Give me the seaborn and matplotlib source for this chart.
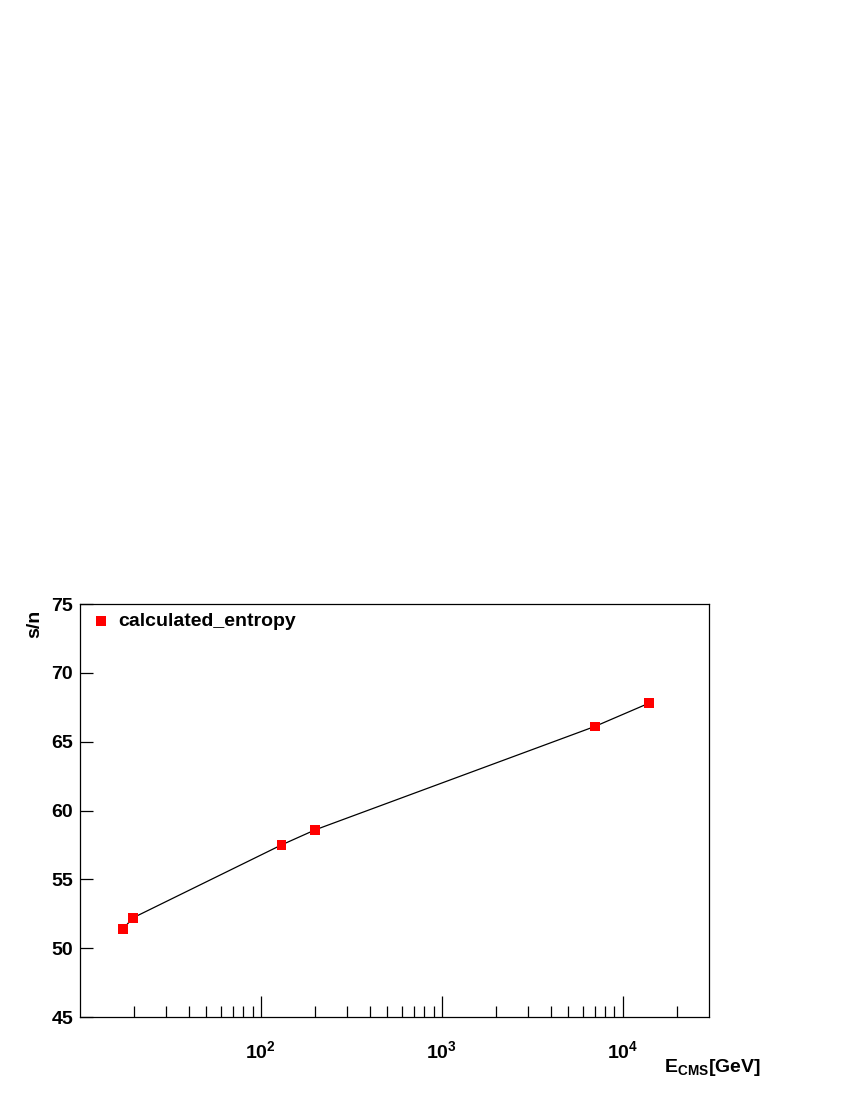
import numpy as np
import matplotlib
matplotlib.use("Agg")
import matplotlib.pyplot as plt
import seaborn as sns
from matplotlib.ticker import FixedLocator, FixedFormatter, NullFormatter

# data
energy = [17.3, 19.6, 130, 200, 7000, 14000]   # E_CMS in GeV
entropy = [51.4, 52.2, 57.5, 58.6, 66.1, 67.8]  # s/n

y_ticks = [45, 50, 55, 60, 65, 70, 75]
x_major = [100, 1000, 10000]
x_major_labels = [r"$\mathbf{10^{2}}$", r"$\mathbf{10^{3}}$", r"$\mathbf{10^{4}}$"]
x_minor = [20, 30, 40, 50, 60, 70, 80, 90,
           200, 300, 400, 500, 600, 700, 800, 900,
           2000, 3000, 4000, 5000, 6000, 7000, 8000, 9000, 20000]

sns.set_style("white")
plt.rcParams["font.family"] = ["Liberation Sans", "DejaVu Sans"]
plt.rcParams["font.weight"] = "bold"
plt.rcParams["text.color"] = "black"
plt.rcParams["xtick.color"] = "black"
plt.rcParams["ytick.color"] = "black"
plt.rcParams["axes.labelcolor"] = "black"
plt.rcParams["mathtext.fontset"] = "custom"
plt.rcParams["mathtext.rm"] = "Liberation Sans:bold"
plt.rcParams["mathtext.bf"] = "Liberation Sans:bold"
plt.rcParams["mathtext.it"] = "Liberation Sans:bold"

fig = plt.figure(figsize=(8.5, 11), dpi=100)
ax = fig.add_axes([80/850, 83/1100, 629/850, 413/1100])

sns.lineplot(x=energy, y=entropy, color="black", linewidth=0.9, ax=ax, zorder=2)
sns.scatterplot(x=energy, y=entropy, marker="s", color="red", s=50,
                edgecolor="none", ax=ax, zorder=3, label="calculated_entropy")

ax.set_xscale("log")
ax.set_xlim(10, 30000)
ax.set_ylim(45, 75)

ax.xaxis.set_major_locator(FixedLocator(x_major))
ax.xaxis.set_major_formatter(FixedFormatter(x_major_labels))
ax.xaxis.set_minor_locator(FixedLocator(x_minor))
ax.xaxis.set_minor_formatter(NullFormatter())
ax.set_yticks(y_ticks)
ax.set_yticklabels([str(v) for v in y_ticks])

ax.tick_params(which="both", top=False, right=False, bottom=True, left=True)
ax.tick_params(axis="x", which="major", direction="in", length=15, width=0.9,
               labelsize=14, pad=17, color="black", labelcolor="black")
ax.tick_params(axis="x", which="minor", direction="in", length=8, width=0.9, color="black")
ax.tick_params(axis="y", which="major", direction="in", length=9, width=0.9,
               labelsize=14, pad=5, color="black", labelcolor="black")
ax.tick_params(axis="y", which="minor", left=False)

for sp in ax.spines.values():
    sp.set_visible(True)
    sp.set_color("black")
    sp.set_linewidth(0.9)

ax.set_xlabel("")
ax.set_ylabel("")

leg = ax.legend(loc="upper left", frameon=False, fontsize=14, handlelength=0.8,
                handletextpad=0.5, borderaxespad=0.0, bbox_to_anchor=(0.009, 0.999))
for t in leg.get_texts():
    t.set_fontweight("bold")
    t.set_color("black")

fig.text(35/850, 1 - 610/1100, "s/n", rotation=90, ha="center", va="top",
         fontsize=14, fontweight="bold")
fig.text(761/850, 1 - 1068/1100, r"$\mathbf{E_{CMS}[GeV]}$", ha="right", va="center",
         fontsize=14)

fig.savefig("out.png", dpi=100)
